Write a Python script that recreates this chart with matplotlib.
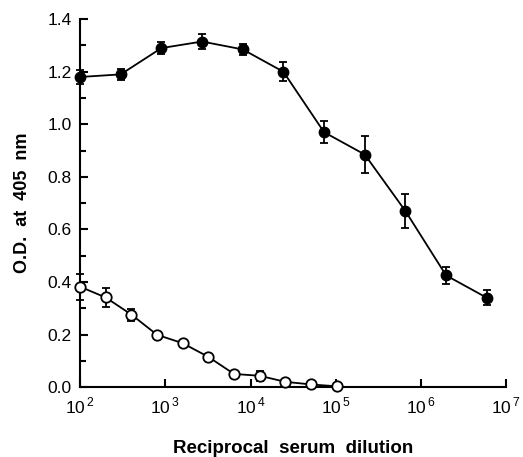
import numpy as np
import matplotlib
matplotlib.use("Agg")
import matplotlib.pyplot as plt
from matplotlib.ticker import MultipleLocator, FixedLocator, NullLocator

plt.rcParams["font.family"] = ["Liberation Sans", "DejaVu Sans"]
plt.rcParams["mathtext.fontset"] = "custom"
plt.rcParams["mathtext.rm"] = "Liberation Sans"

# immune serum (filled circles), 3-fold dilutions
immune_dil = [100, 300, 900, 2700, 8100, 24300, 72900, 218700, 656100, 1968300, 5904900]
immune_od = [1.18, 1.19, 1.29, 1.315, 1.285, 1.20, 0.97, 0.885, 0.67, 0.425, 0.34]
immune_err = [0.025, 0.02, 0.022, 0.03, 0.02, 0.037, 0.042, 0.071, 0.065, 0.032, 0.028]

# control serum (open circles), 2-fold dilutions
control_dil = [100, 200, 400, 800, 1600, 3200, 6400, 12800, 25600, 51200, 102400]
control_od = [0.382, 0.341, 0.276, 0.199, 0.167, 0.115, 0.05, 0.043, 0.02, 0.01, 0.003]
control_err = [0.05, 0.036, 0.023, 0.012, 0.008, 0.008, 0.006, 0.02, 0.006, 0.005, 0.004]

xticks = [1e2, 1e3, 1e4, 1e5, 1e6, 1e7]
xticklabels = [r"10$^{\,%d}$" % e for e in range(2, 8)]

fig = plt.figure(figsize=(5.23, 4.57), dpi=100)
ax = fig.add_axes([0.153, 0.153, 0.815, 0.805])

ax.errorbar(immune_dil, immune_od, yerr=immune_err, fmt="-o", color="black",
            mfc="black", mec="black", ms=7.5, lw=1.3, elinewidth=1.3,
            capsize=3, capthick=1.3, clip_on=False, zorder=3)
ax.errorbar(control_dil, control_od, yerr=control_err, fmt="-o", color="black",
            mfc="white", mec="black", mew=1.3, ms=7.5, lw=1.3, elinewidth=1.3,
            capsize=3, capthick=1.3, clip_on=False, zorder=3)

ax.set_xscale("log")
ax.set_xlim(1e2, 1e7)
ax.set_ylim(0, 1.4)
ax.xaxis.set_major_locator(FixedLocator(xticks))
ax.xaxis.set_minor_locator(NullLocator())
ax.set_xticklabels(xticklabels)
ax.yaxis.set_major_locator(MultipleLocator(0.2))
ax.yaxis.set_minor_locator(MultipleLocator(0.1))
ax.yaxis.set_major_formatter(matplotlib.ticker.FormatStrFormatter("%.1f"))

for s in ["top", "right"]:
    ax.spines[s].set_visible(False)
for s in ["left", "bottom"]:
    ax.spines[s].set_linewidth(1.5)

ax.tick_params(axis="both", which="major", direction="in", length=6, width=1.5,
               labelsize=12.5, pad=6)
ax.tick_params(axis="y", which="minor", direction="in", length=4, width=1.5)

ax.set_xlabel("Reciprocal  serum  dilution", fontsize=13.5, fontweight="bold", labelpad=17)
ax.set_ylabel("O.D.  at  405  nm", fontsize=13, fontweight="bold", labelpad=12)

fig.savefig("out.png", dpi=100)
